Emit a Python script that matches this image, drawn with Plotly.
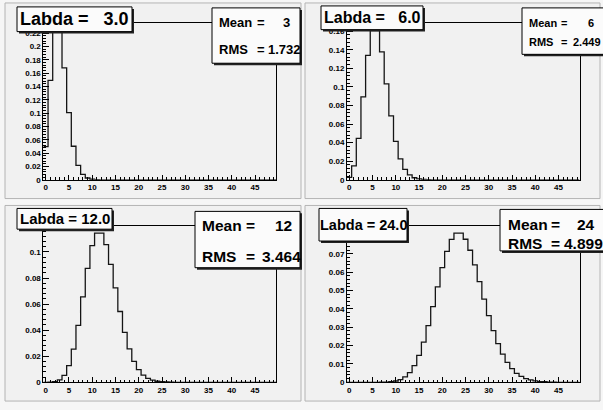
import plotly.graph_objects as go

W, H = 603, 410

# ---------------- data (bin contents, bins centred on 0..49) ----------------
bins = list(range(50))

labda3 = [0.0498, 0.1494, 0.2240, 0.2240, 0.1680, 0.1008, 0.0504, 0.0216, 0.0081, 0.0027,
          0.0008, 0.0002] + [0.0] * 38
labda6 = [0.0025, 0.0149, 0.0446, 0.0892, 0.1339, 0.1606, 0.1606, 0.1377, 0.1033, 0.0688,
          0.0413, 0.0225, 0.0113, 0.0052, 0.0022, 0.0009, 0.0003, 0.0001] + [0.0] * 32
labda12 = [0.0, 0.0001, 0.0004, 0.0018, 0.0053, 0.0127, 0.0255, 0.0437, 0.0655, 0.0874,
           0.1048, 0.1144, 0.1144, 0.1056, 0.0905, 0.0724, 0.0543, 0.0383, 0.0256, 0.0161,
           0.0097, 0.0055, 0.0030, 0.0016, 0.0008, 0.0004, 0.0002, 0.0001] + [0.0] * 22
labda24 = [0.0] * 7 + [0.00003, 0.0001, 0.0003, 0.0007, 0.0014, 0.0029, 0.0053, 0.0091,
                       0.0146, 0.0219, 0.0309, 0.0412, 0.0520, 0.0624, 0.0713, 0.0778,
                       0.0812, 0.0812, 0.0779, 0.0719, 0.0639, 0.0548, 0.0453, 0.0363,
                       0.0281, 0.0211, 0.0153, 0.0108, 0.0074, 0.0049, 0.0032, 0.0020,
                       0.0013, 0.0008, 0.0004, 0.0003, 0.0001, 0.0001] + [0.0] * 5

series = [labda3, labda6, labda12, labda24]
titles = ["Labda =   3.0", "Labda =   6.0", "Labda = 12.0", "Labda = 24.0"]
means = ["3", "6", "12", "24"]
rmss = ["1.732", "2.449", "3.464", "4.899"]
ydticks = [0.02, 0.02, 0.02, 0.01]
ylabel_max = [0.22, 0.16, 0.10, 0.07]   # highest y tick label not hidden by the title box
xtick_labels = [0, 5, 10, 15, 20, 25, 30, 35, 40, 45]

# ---------------- layout geometry (pixels) ----------------
frames = [  # x0, x1, ytop, ybottom
    (43.4, 276.0, 23.5, 182.0),
    (347.0, 579.5, 23.5, 182.0),
    (43.4, 276.0, 228.5, 387.0),
    (347.0, 579.5, 228.5, 387.0),
]
pads = [(5, 301, 3, 201), (305, 600, 3, 201), (5, 301, 208, 406), (305, 600, 208, 406)]
title_boxes = [  # x0, x1, y0, y1, fontsize
    (17, 132, 7, 32, 18),
    (321, 423, 6, 30, 16),
    (17, 112, 211, 232, 15),
    (319, 407, 211, 244, 14.5),
]
stat_boxes = [  # x0, x1, y0, y1
    (212, 300, 8, 64),
    (522, 604, 8, 55),
    (195, 300, 214, 271),
    (500, 604, 212, 254),
]
stat_text = [  # font, name_x, eq_x, mean_right, rms_left, y_mean, y_rms
    (13, 217, 255, 292, 266, 23, 50),
    (11, 527, 559, 596, 571, 23, 43),
    (15.5, 200, 244, 294, 260, 228, 260),
    (15.5, 506, 549, 597, 562, 227, 246),
]

def px(x):
    return x / W

def py(y):
    return 1 - y / H

FONT = "Liberation Sans"
fig = go.Figure()
shapes = []
annotations = []

def txt(x, y, s, size, anchor):
    annotations.append(dict(xref="paper", yref="paper", x=px(x), y=py(y), text=s,
                            showarrow=False, xanchor=anchor, yanchor="middle",
                            font=dict(family=FONT, size=size, color="#000000", weight="bold")))

for i, (vals, fr) in enumerate(zip(series, frames)):
    n = i + 1
    xa = "x" if n == 1 else f"x{n}"
    ya = "y" if n == 1 else f"y{n}"
    edges = [b - 0.5 for b in bins] + [bins[-1] + 0.5]
    fig.add_trace(go.Scatter(
        x=edges, y=list(vals) + [vals[-1]], mode="lines",
        line=dict(shape="hv", color="#151515", width=1.3),
        xaxis=xa, yaxis=ya, showlegend=False, hoverinfo="skip"))
    x0, x1, yt, yb = fr
    axis_common = dict(showline=True, linecolor="#000000", linewidth=1, mirror=True,
                       showgrid=False, zeroline=False, ticks="inside",
                       tickcolor="#000000", tickwidth=1,
                       tickfont=dict(family=FONT, size=8, color="#000000", weight="bold"))
    nt = int(round(ylabel_max[i] / ydticks[i]))
    yvals = [round(k * ydticks[i], 4) for k in range(nt + 1)]
    fig.update_layout(**{
        ("xaxis" if n == 1 else f"xaxis{n}"): dict(
            domain=[px(x0), px(x1)], range=[-0.5, 49.5],
            tickvals=xtick_labels, ticklen=5,
            minor=dict(ticks="inside", dtick=1, tick0=0, ticklen=2.5, tickcolor="#000000"),
            anchor=ya, **axis_common),
        ("yaxis" if n == 1 else f"yaxis{n}"): dict(
            domain=[py(yb), py(yt)], range=[0, max(vals) * 1.05],
            tickvals=yvals, ticklen=6,
            minor=dict(ticks="inside", dtick=ydticks[i] / 5, tick0=0, ticklen=3,
                       tickcolor="#000000"),
            anchor=xa, **axis_common),
    })

    # pad background with border
    p0, p1, q0, q1 = pads[i]
    shapes.append(dict(type="rect", xref="paper", yref="paper", layer="below",
                       x0=px(p0), x1=px(p1), y0=py(q1), y1=py(q0),
                       fillcolor="#f1f1f1", line=dict(color="#b4b4b4", width=1)))

    # title box (with shadow)
    bx0, bx1, by0, by1, fs = title_boxes[i]
    shapes.append(dict(type="rect", xref="paper", yref="paper",
                       x0=px(bx0 + 2), x1=px(bx1 + 2), y0=py(by1 + 2), y1=py(by0 + 2),
                       fillcolor="#222222", line=dict(width=0)))
    shapes.append(dict(type="rect", xref="paper", yref="paper",
                       x0=px(bx0), x1=px(bx1), y0=py(by1), y1=py(by0),
                       fillcolor="#fbfbfb", line=dict(color="#000000", width=1)))
    txt((bx0 + bx1) / 2, (by0 + by1) / 2, titles[i].replace(" ", "\u00a0"), fs, "center")

    # stats box (with shadow)
    sx0, sx1, sy0, sy1 = stat_boxes[i]
    shapes.append(dict(type="rect", xref="paper", yref="paper",
                       x0=px(sx0 + 2), x1=px(sx1 + 2), y0=py(sy1 + 2), y1=py(sy0 + 2),
                       fillcolor="#222222", line=dict(width=0)))
    shapes.append(dict(type="rect", xref="paper", yref="paper",
                       x0=px(sx0), x1=px(sx1), y0=py(sy1), y1=py(sy0),
                       fillcolor="#fbfbfb", line=dict(color="#000000", width=1)))
    sfs, nx, ex, mr, rl, ym, yr = stat_text[i]
    txt(nx, ym, "Mean", sfs, "left")
    txt(ex, ym, "=", sfs, "left")
    txt(mr, ym, means[i], sfs, "right")
    txt(nx, yr, "RMS", sfs, "left")
    txt(ex, yr, "=", sfs, "left")
    txt(rl, yr, rmss[i], sfs, "left")

fig.update_layout(
    width=W, height=H, margin=dict(l=0, r=0, t=0, b=0),
    paper_bgcolor="#f6f6f6", plot_bgcolor="rgba(0,0,0,0)",
    shapes=shapes, annotations=annotations, showlegend=False,
)

fig.write_html("out.html")
